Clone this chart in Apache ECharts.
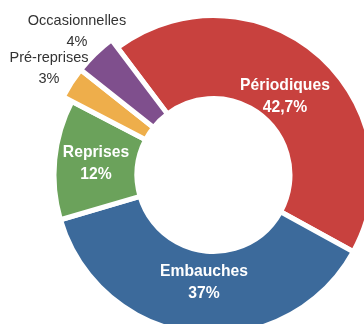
<!DOCTYPE html>
<html>
<head>
<meta charset="utf-8">
<script src="https://cdn.jsdelivr.net/npm/echarts@6/dist/echarts.min.js"></script>
<style>
html,body{margin:0;padding:0;background:#fff;}
#c{width:364px;height:324px;}
</style>
</head>
<body>
<div id="c"></div>
<script>
const categories = ['Périodiques', 'Embauches', 'Reprises', 'Pré-reprises', 'Occasionnelles'];
const values = [42.7, 37, 12, 3, 4];
const valueLabels = ['42,7%', '37%', '12%', '3%', '4%'];
const colors = ['#C8413E', '#3C6A9B', '#6BA25B', '#EEAE4B', '#7F4F8D'];
const smallSet = [false, false, false, true, true];

// label centres (text placement only)
const labelPos = [[285, 97], [204, 283], [96, 164], [49, 68.5], [77, 31.5]];

const FONT = "'Liberation Sans', Arial, sans-serif";

function makeData(forSmall) {
  return categories.map((name, i) => {
    const visible = smallSet[i] === forSmall;
    const inside = !smallSet[i];
    return {
      name: name,
      value: values[i],
      itemStyle: {
        color: colors[i],
        opacity: visible ? 1 : 0,
        borderColor: '#ffffff',
        borderWidth: visible ? 5 : 0
      },
      label: visible ? {
        show: true,
        position: inside ? 'inside' : 'outside',
        color: inside ? '#ffffff' : '#333333',
        fontWeight: inside ? 'bold' : 'normal',
        fontSize: inside ? 15.7 : 14.5,
        lineHeight: inside ? 22 : 21,
        fontFamily: FONT,
        align: 'center'
      } : { show: false },
      labelLine: { show: false }
    };
  });
}

function layoutFn(params) {
  const p = labelPos[params.dataIndex];
  return { x: p[0], y: p[1], align: 'center', verticalAlign: 'middle' };
}

const common = {
  type: 'pie',
  center: [213.5, 175],
  startAngle: 127,
  clockwise: true,
  avoidLabelOverlap: false,
  animation: false,
  silent: true,
  labelLine: { show: false },
  labelLayout: layoutFn,
  label: {
    formatter: (p) => p.name + '\n' + valueLabels[p.dataIndex]
  },
  emphasis: { disabled: true }
};

const chart = echarts.init(document.getElementById('c'), null, { renderer: 'canvas' });
chart.setOption({
  backgroundColor: '#ffffff',
  series: [
    Object.assign({}, common, { radius: [76.5, 159.5], data: makeData(false) }),
    Object.assign({}, common, { radius: [76.5, 169.5], data: makeData(true) })
  ]
});
</script>
</body>
</html>
